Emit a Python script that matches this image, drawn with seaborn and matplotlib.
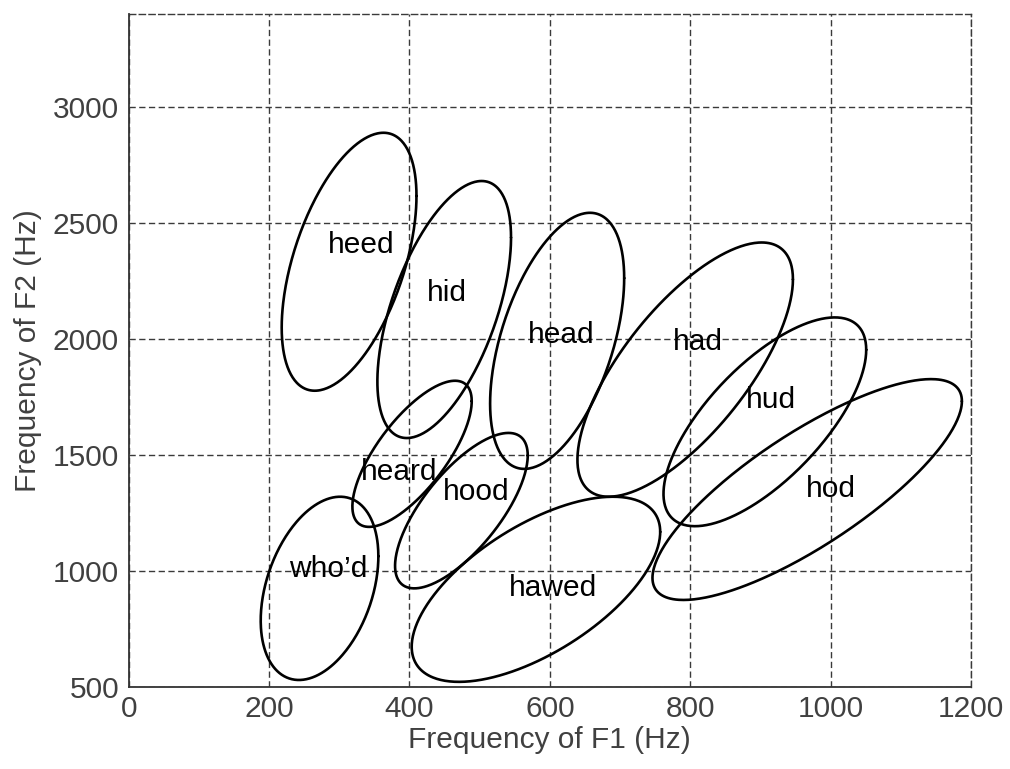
import numpy as np
import pandas as pd
import matplotlib
matplotlib.use("Agg")
import matplotlib.pyplot as plt
import seaborn as sns

# ---- data ----
vowels = ["heed", "hid", "head", "had", "hud", "hod", "heard", "hood", "who\u2019d", "hawed"]
f1_center = [314, 449.5, 610.4, 792.8, 906.3, 966.6, 403.7, 474, 271.9, 580.2]
f1_radius = [96, 95.2, 95.5, 153.5, 144.4, 220.4, 85, 94.5, 83.8, 177]
f2_center = [2332, 2126, 1991, 1867, 1642, 1350, 1504, 1259, 924, 920]
f2_radius = [556, 554, 552, 548, 450, 476, 315, 335, 395, 399]
corr = [0.51, 0.56, 0.49, 0.71, 0.69, 0.80, 0.72, 0.71, 0.35, 0.62]
label_f1 = [331, 454, 616, 811, 915, 1001, 385, 495, 284.5, 604]
label_f2 = [2368, 2162, 1983, 1951, 1700, 1319, 1391, 1305, 974, 891]
x_ticks = [0, 200, 400, 600, 800, 1000, 1200]
y_ticks = [500, 1000, 1500, 2000, 2500, 3000]

# ---- build ellipse outlines ----
t = np.linspace(0, 2 * np.pi, 361)
rows = []
for v, cx, rx, cy, ry, r in zip(vowels, f1_center, f1_radius, f2_center, f2_radius, corr):
    xs = cx + rx * np.cos(t)
    ys = cy + ry * (r * np.cos(t) + np.sqrt(1 - r * r) * np.sin(t))
    for i, (a, b) in enumerate(zip(xs, ys)):
        rows.append((v, i, a, b))
df = pd.DataFrame(rows, columns=["vowel", "order", "F1", "F2"])

sns.set_theme(style="white")
plt.rcParams["font.family"] = ["Liberation Sans", "DejaVu Sans"]

fig = plt.figure(figsize=(10.10, 7.69), dpi=100)
ax = fig.add_axes([0.1274, 0.1070, 0.9614 - 0.1274, 0.9818 - 0.1070])

grid_col = "#3a3a3a"
ax.set_xlim(0, 1200)
ax.set_ylim(500, 3400)
ax.set_xticks(x_ticks)
ax.set_yticks(y_ticks)
ax.grid(True, color=grid_col, linestyle=(0, (4.5, 2.5)), linewidth=1.0)
ax.set_axisbelow(True)

sns.lineplot(data=df, x="F1", y="F2", units="vowel", estimator=None, sort=False,
             color="black", linewidth=1.9, ax=ax, legend=False)

for v, lx, ly in zip(vowels, label_f1, label_f2):
    ax.text(lx, ly, v, ha="center", va="baseline", fontsize=21.5, color="black")

for s in ["left", "bottom"]:
    ax.spines[s].set_color("#333333")
    ax.spines[s].set_linewidth(1.3)
for s in ["top", "right"]:
    ax.spines[s].set_color(grid_col)
    ax.spines[s].set_linestyle((0, (4.5, 2.5)))
    ax.spines[s].set_linewidth(1.0)

ax.tick_params(axis="both", direction="in", length=5, width=1, color="#333333",
               labelsize=21.5, labelcolor="#404040")
ax.tick_params(axis="x", pad=6)
ax.tick_params(axis="y", pad=7)
ax.set_xlabel("Frequency of F1 (Hz)", fontsize=21.5, color="#404040", labelpad=2)
ax.set_ylabel("Frequency of F2 (Hz)", fontsize=21.5, color="#404040", labelpad=8)

fig.savefig("out.png", dpi=100)
